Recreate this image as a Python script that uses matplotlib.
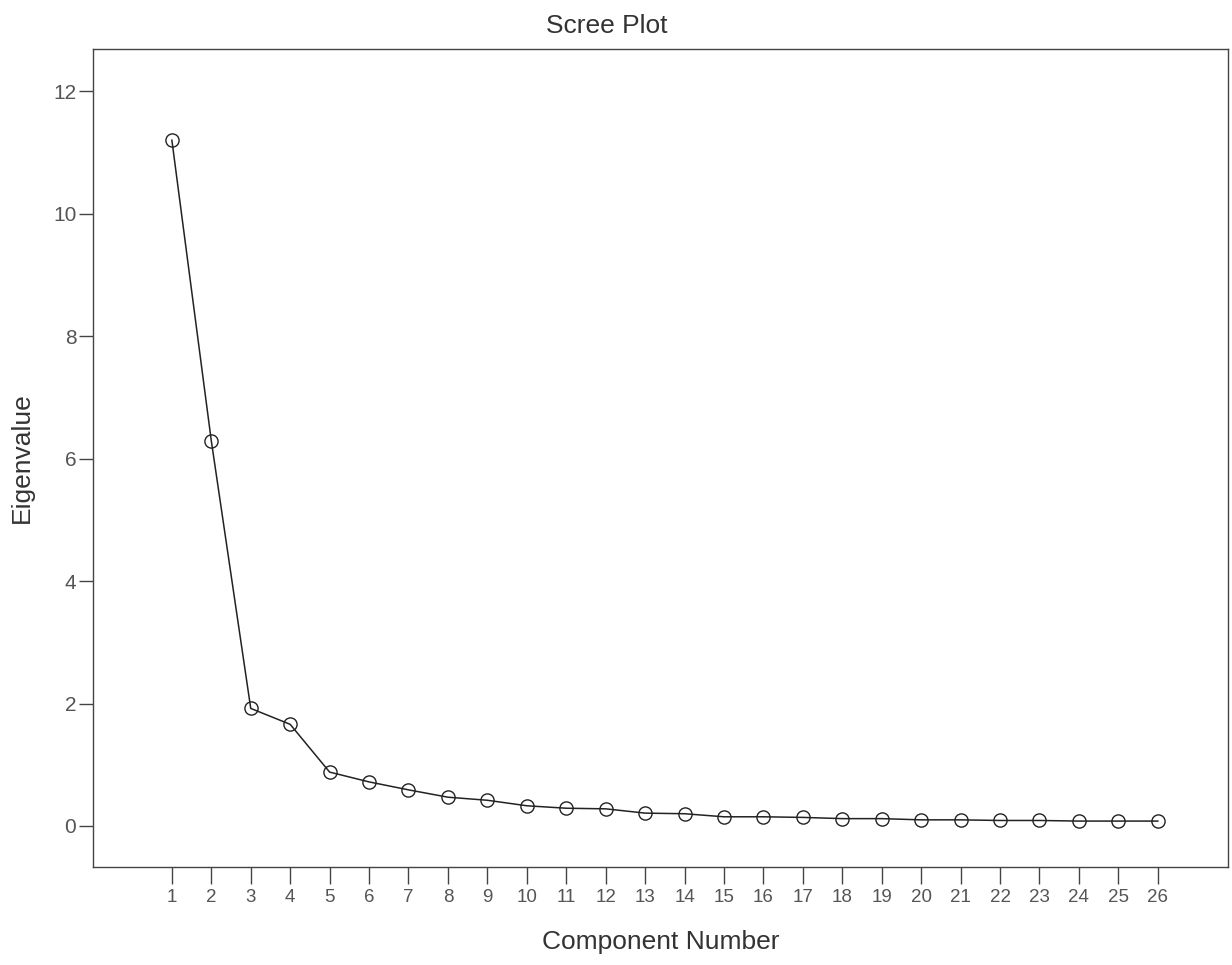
import matplotlib.pyplot as plt

# Scree plot: eigenvalues per component
components = list(range(1, 27))
eigenvalues = [11.2, 6.29, 1.92, 1.66, 0.88, 0.72, 0.59, 0.47, 0.42, 0.33,
               0.29, 0.28, 0.21, 0.20, 0.15, 0.15, 0.14, 0.12, 0.12, 0.10,
               0.10, 0.09, 0.09, 0.08, 0.08, 0.08]
y_ticks = [0, 2, 4, 6, 8, 10, 12]

plt.rcParams['font.family'] = ['Liberation Sans', 'DejaVu Sans']

fig = plt.figure(figsize=(12.32, 9.65), dpi=100)
ax = fig.add_axes([93 / 1232, 1 - 867 / 965, (1228 - 93) / 1232, (867 - 49) / 965])

ax.plot(components, eigenvalues, color='#222222', lw=1.1,
        marker='o', ms=9.5, mfc='none', mec='#222222', mew=1.0)

ax.set_xlim(-1.0, 27.78)
ax.set_ylim(-0.67, 12.69)
ax.set_xticks(components)
ax.set_yticks(y_ticks)

for side in ['top', 'right', 'left', 'bottom']:
    ax.spines[side].set_color('#444444')
    ax.spines[side].set_linewidth(1.0)

ax.tick_params(axis='x', direction='out', length=12, width=1.0, color='#444444',
               labelsize=13.5, labelcolor='#555555', pad=4)
ax.tick_params(axis='y', direction='out', length=10, width=1.0, color='#444444',
               labelsize=15, labelcolor='#555555', pad=2)

# title sits a bit left of the axes centre in the original
fig.text(607 / 1232, 1 - 26 / 965, 'Scree Plot', fontsize=19, color='#333333',
         ha='center', va='center')
ax.set_xlabel('Component Number', fontsize=19, color='#333333', labelpad=17)
ax.set_ylabel('Eigenvalue', fontsize=19, color='#333333', labelpad=14)

fig.savefig('out.png', dpi=100)
